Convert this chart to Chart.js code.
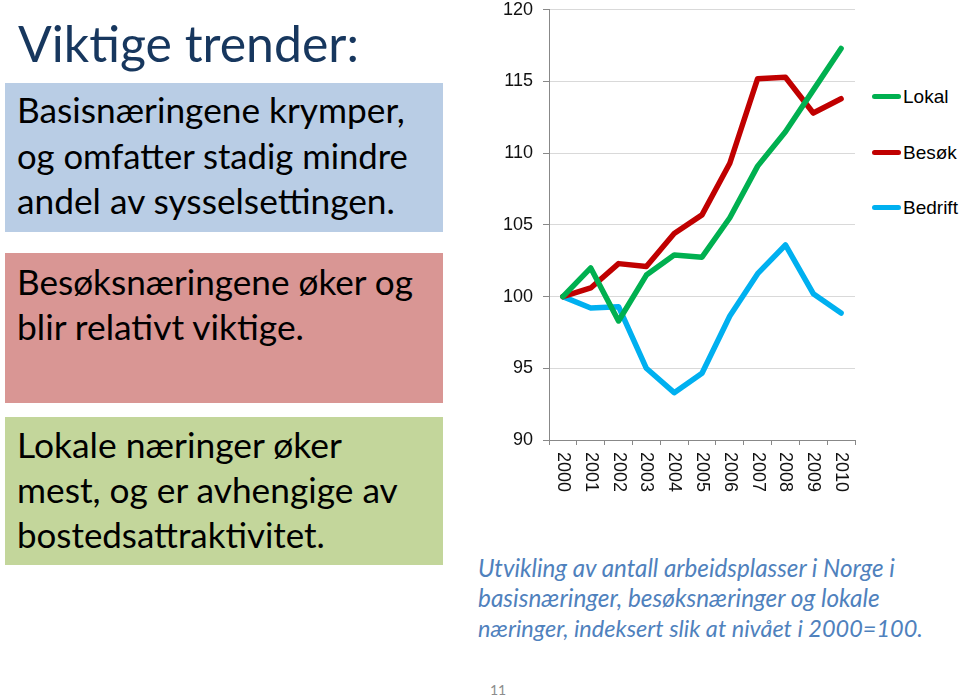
<!DOCTYPE html>
<html lang="no">
<head>
<meta charset="UTF-8">
<title>Viktige trender</title>
<script src="https://cdn.jsdelivr.net/npm/chart.js@4.4.0/dist/chart.umd.min.js"></script>
<style>
    body { margin: 0; width: 960px; height: 697px; background: #fff; position: relative; overflow: hidden; font-family: Lato, "Open Sans", sans-serif; }
    .box { position: absolute; left: 5px; width: 438px; }
    .ln { position: absolute; white-space: nowrap; line-height: 1.2; color: #000; }
    .ln .mk { display: inline-block; width: 0; height: 0; }
    .cap { font-style: italic; color: #4f81bd; }
    #chartWrap { position: absolute; left: 490px; top: -11px; width: 370px; height: 511px; }
    .leg { position: absolute; left: 872px; height: 22px; line-height: 22px; font: 19px "Liberation Sans", Arial, sans-serif; color: #000; white-space: nowrap; }
    .leg i { display: inline-block; width: 29px; height: 5px; border-radius: 3px; vertical-align: middle; margin-right: 2px; position: relative; top: -1px; }
    #page { position: absolute; left: 490px; top: 681px; font-size: 14px; color: #8c8c8c; }
</style>
</head>
<body>
    <div class="ln" style="color:#17375e" data-x="18" data-b="62" data-w="341">Viktige trender:</div>

    <div class="box" style="top:83px;height:149px;background:#b9cde5"></div>
    <div class="ln" data-x="17" data-b="123" data-w="388">Basisnæringene krymper,</div>
    <div class="ln" data-x="17" data-b="169" data-w="391">og omfatter stadig mindre</div>
    <div class="ln" data-x="17" data-b="214" data-w="378">andel av sysselsettingen.</div>

    <div class="box" style="top:253px;height:150px;background:#d99694"></div>
    <div class="ln" data-x="17" data-b="295" data-w="396">Besøksnæringene øker og</div>
    <div class="ln" data-x="17" data-b="340" data-w="287">blir relativt viktige.</div>

    <div class="box" style="top:417px;height:148px;background:#c3d69b"></div>
    <div class="ln" data-x="17" data-b="458" data-w="325">Lokale næringer øker</div>
    <div class="ln" data-x="17" data-b="503" data-w="381">mest, og er avhengige av</div>
    <div class="ln" data-x="17" data-b="548" data-w="308">bostedsattraktivitet.</div>

    <div id="chartWrap"><canvas id="trend" width="370" height="511"></canvas></div>
    <div id="legend"></div>

    <div class="ln cap" data-x="478" data-b="577" data-w="417">Utvikling av antall arbeidsplasser i Norge i</div>
    <div class="ln cap" data-x="478" data-b="607" data-w="402">basisnæringer, besøksnæringer og lokale</div>
    <div class="ln cap" data-x="478" data-b="637" data-w="445">næringer, indeksert slik at nivået i 2000=100.</div>

    <div id="page">11</div>

<script>
    // data (index 2000 = 100)
    const years = ['2000', '2001', '2002', '2003', '2004', '2005', '2006', '2007', '2008', '2009', '2010'];
    const lokal = [100, 102.0, 98.3, 101.5, 102.9, 102.75, 105.5, 109.1, 111.5, 114.4, 117.3];
    const besok = [100, 100.6, 102.3, 102.1, 104.4, 105.7, 109.3, 115.2, 115.3, 112.8, 113.8];
    const bedrift = [100, 99.2, 99.3, 95.0, 93.3, 94.65, 98.65, 101.6, 103.6, 100.2, 98.85];
    const seriesNames = ['Lokal', 'Besøk', 'Bedrift'];
    const seriesColors = ['#00b050', '#c00000', '#00b0f0'];

    // fit each text line to its width and put its baseline in place
    document.querySelectorAll('.ln').forEach(el => {
        el.style.fontSize = '100px';
        let mk = document.createElement('span');
        mk.className = 'mk';
        el.appendChild(mk);
        let w = el.getBoundingClientRect().width;
        el.style.fontSize = (100 * el.dataset.w / w) + 'px';
        el.style.left = el.dataset.x + 'px';
        el.style.top = (el.dataset.b - mk.offsetTop) + 'px';
    });

    // legend
    let legend = document.getElementById('legend');
    seriesNames.forEach((name, i) => {
        let d = document.createElement('div');
        d.className = 'leg';
        d.style.top = (86 + i * 55.5) + 'px';
        d.innerHTML = '<i style="background:' + seriesColors[i] + '"></i>' + name;
        legend.appendChild(d);
    });

    // x labels turned 90 degrees, read from top to bottom
    const yearLabels = {
        id: 'yearLabels',
        afterDraw(chart) {
            let ctx = chart.ctx, x = chart.scales.x;
            ctx.save();
            ctx.font = '18px "Liberation Sans", Arial, sans-serif';
            ctx.fillStyle = '#111';
            ctx.textAlign = 'left';
            ctx.textBaseline = 'middle';
            years.forEach((lab, i) => {
                ctx.save();
                ctx.translate(x.getPixelForTick(i), x.top + 12);
                ctx.rotate(Math.PI / 2);
                ctx.fillText(lab, 0, 0);
                ctx.restore();
            });
            ctx.restore();
        }
    };

    let values = [lokal, besok, bedrift];
    new Chart(document.getElementById('trend').getContext('2d'), {
        type: 'line',
        data: {
            labels: years,
            datasets: seriesNames.map((name, i) => ({
                label: name,
                data: values[i],
                borderColor: seriesColors[i],
                backgroundColor: seriesColors[i],
                borderWidth: 5.5,
                pointRadius: 0,
                tension: 0,
                borderCapStyle: 'round',
                borderJoinStyle: 'round'
            }))
        },
        options: {
            responsive: false,
            animation: false,
            layout: { padding: { top: 0, right: 5, left: 0, bottom: 0 } },
            plugins: { legend: { display: false }, tooltip: { enabled: false } },
            scales: {
                x: {
                    offset: true,
                    grid: { offset: true, drawOnChartArea: false, color: '#888', tickLength: 5 },
                    border: { color: '#888' },
                    ticks: { display: false },
                    afterFit: s => { s.height = 60; }
                },
                y: {
                    min: 90,
                    max: 120,
                    ticks: { stepSize: 5, color: '#111', padding: 10, font: { family: '"Liberation Sans", Arial, sans-serif', size: 18 } },
                    grid: { color: '#d9d9d9', tickColor: '#888', tickLength: 6 },
                    border: { color: '#888' },
                    afterFit: s => { s.width = 59; }
                }
            }
        },
        plugins: [yearLabels]
    });
</script>
</body>
</html>
